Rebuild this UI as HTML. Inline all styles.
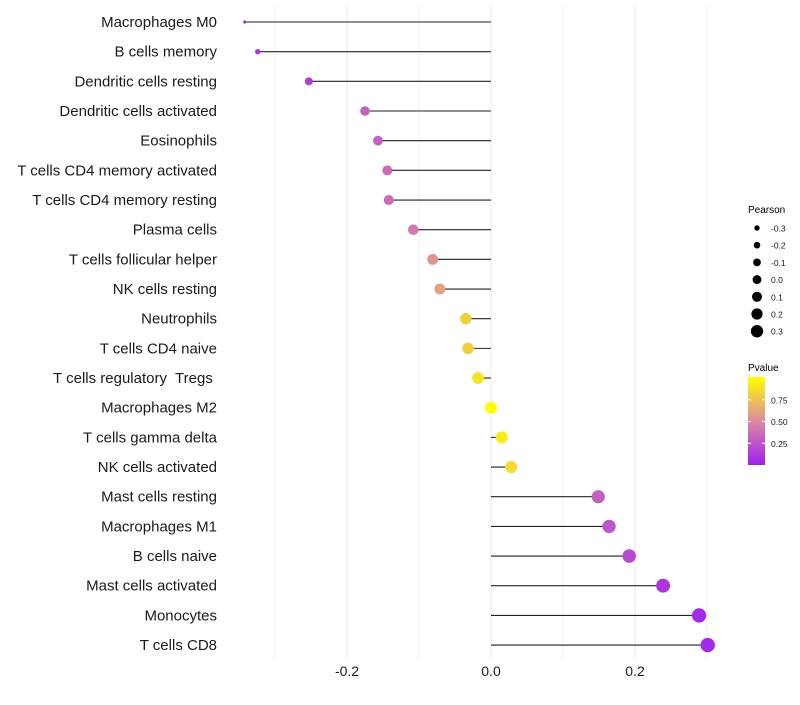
<!DOCTYPE html>
<html><head><meta charset="utf-8"><style>
body{margin:0;background:#fff;font-family:"Liberation Sans",sans-serif}
text{white-space:pre}
</style></head><body>
<svg id="chart" width="800" height="700" xmlns="http://www.w3.org/2000/svg">
<defs><linearGradient id="pg" x1="0" y1="1" x2="0" y2="0">
<stop offset="0" stop-color="#a020f0"/><stop offset="0.5" stop-color="#dc8aa0"/><stop offset="1" stop-color="#ffff00"/></linearGradient></defs>
<g id="grid"></g><g id="marks"></g><g id="labels"></g><g id="legend"></g>
</svg>
<script>
const cells=["Macrophages M0","B cells memory","Dendritic cells resting","Dendritic cells activated","Eosinophils","T cells CD4 memory activated","T cells CD4 memory resting","Plasma cells","T cells follicular helper","NK cells resting","Neutrophils","T cells CD4 naive","T cells regulatory  Tregs ","Macrophages M2","T cells gamma delta","NK cells activated","Mast cells resting","Macrophages M1","B cells naive","Mast cells activated","Monocytes","T cells CD8"];
const pearson=[-0.342,-0.324,-0.253,-0.175,-0.157,-0.144,-0.142,-0.108,-0.081,-0.071,-0.035,-0.032,-0.018,0.0,0.015,0.028,0.149,0.164,0.192,0.239,0.289,0.301];
const pvalue=[0.08,0.1,0.15,0.3,0.3,0.35,0.35,0.42,0.55,0.6,0.8,0.8,0.88,1.0,0.92,0.85,0.3,0.25,0.2,0.1,0.05,0.05];
const xTicks=[-0.2,0,0.2];
const xTickLabels=["-0.2","0.0","0.2"];
const xMinor=[-0.3,-0.1,0.1,0.3];
const sizeLegend=[-0.3,-0.2,-0.1,0.0,0.1,0.2,0.3];
const sizeLegendLabels=["-0.3","-0.2","-0.1","0.0","0.1","0.2","0.3"];
const pTicks=[0.25,0.5,0.75];
const pTickLabels=["0.25","0.50","0.75"];

const NS="http://www.w3.org/2000/svg";
const x=v=>491+v*720;
const y=i=>22+i*29.67;
const sDom=[-0.342,-0.324,-0.253,-0.175,0,0.3];
const sRng=[1.6,2.7,4.0,4.8,6.0,7.2];
function r(v){if(v<=sDom[0])return sRng[0];for(let i=1;i<sDom.length;i++){if(v<=sDom[i]){const t=(v-sDom[i-1])/(sDom[i]-sDom[i-1]);return sRng[i-1]+t*(sRng[i]-sRng[i-1]);}}return sRng[sRng.length-1]+(v-0.3)*4;}
function lerp(a,b,t){return a.map((c,i)=>Math.round(c+(b[i]-c)*t));}
function col(p){const A=[160,32,240],M=[220,138,160],B=[255,255,0];
 const c=p<0.5?lerp(A,M,p/0.5):lerp(M,B,(p-0.5)/0.5);return `rgb(${c.join(',')})`;}
function mk(tag,attrs,parent){const e=document.createElementNS(NS,tag);for(const k in attrs)e.setAttribute(k,attrs[k]);parent.appendChild(e);return e;}
const grid=document.getElementById('grid'),marks=document.getElementById('marks'),labels=document.getElementById('labels'),legend=document.getElementById('legend');
xMinor.forEach(v=>{const l=mk('line',{x1:x(v),x2:x(v),y1:5,y2:660,stroke:'#f2f2f2','stroke-width':1},grid);

});
xTicks.forEach((v,i)=>{const l=mk('line',{x1:x(v),x2:x(v),y1:5,y2:660,stroke:'#ebebeb','stroke-width':1},grid);


const t=mk('text',{x:x(v),y:676,'text-anchor':'middle','font-size':14,fill:'#1a1a1a'},labels);t.textContent=xTickLabels[i];

});
cells.forEach((c,i)=>{
 const t=mk('text',{x:217,y:y(i)+5,'text-anchor':'end','font-size':15,fill:'#1a1a1a'},labels);t.textContent=c;
 
 
 const l=mk('line',{x1:x(0),x2:x(pearson[i]),y1:y(i),y2:y(i),stroke:'#222','stroke-width':1.1},marks);
 
 
 const d=mk('circle',{cx:x(pearson[i]),cy:y(i),r:r(pearson[i]),fill:col(pvalue[i])},marks);
 
 
});
let t=mk('text',{x:748,y:213,'font-size':10,fill:'#000'},legend);t.textContent='Pearson';


sizeLegend.forEach((v,i)=>{const cy=228+i*17.2;
 const c=mk('circle',{cx:757,cy:cy,r:2.7+(v+0.3)*5.8,fill:'#000'},legend);
 
 
 const tt=mk('text',{x:771,y:cy+3.5,'font-size':8.5,fill:'#1a1a1a'},legend);tt.textContent=sizeLegendLabels[i];
 
 });
t=mk('text',{x:748,y:371,'font-size':10,fill:'#000'},legend);t.textContent='Pvalue';


const bar=mk('rect',{x:748,y:377,width:17,height:88,fill:'url(#pg)'},legend);


pTicks.forEach((p,i)=>{const cy=465-p*87;
 mk('line',{x1:748,x2:751,y1:cy,y2:cy,stroke:'#fff'},legend);mk('line',{x1:762,x2:765,y1:cy,y2:cy,stroke:'#fff'},legend);
 const tt=mk('text',{x:771,y:cy+3.5,'font-size':8.5,fill:'#1a1a1a'},legend);tt.textContent=pTickLabels[i];
 
 });
</script>
</body></html>
